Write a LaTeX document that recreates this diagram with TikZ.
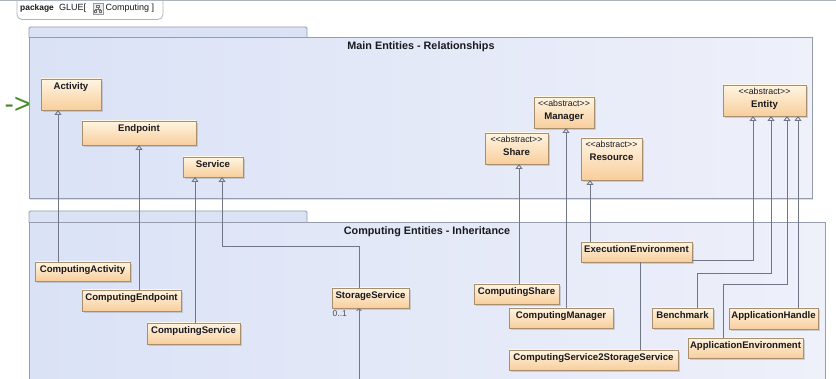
\documentclass[tikz,border=0pt]{standalone}
\usepackage{fontspec}
\newfontfamily\uifont{Liberation Sans}
\usetikzlibrary{arrows.meta,shadows}

\definecolor{hdrline}{RGB}{175,180,192}
\definecolor{pkgline}{RGB}{150,156,172}
\definecolor{pkgL}{RGB}{218,226,246}
\definecolor{pkgR}{RGB}{238,240,250}
\definecolor{clsline}{RGB}{168,142,108}
\definecolor{clstop}{RGB}{255,245,226}
\definecolor{clsbot}{RGB}{248,206,156}
\definecolor{wire}{RGB}{112,118,134}
\definecolor{markgreen}{RGB}{72,140,42}
\definecolor{txt}{RGB}{25,25,30}

\tikzset{
  hdr/.style={draw=hdrline, line width=0.8pt},
  pkgtab/.style={draw=pkgline, line width=0.8pt, fill=pkgL},
  pkgbody/.style={draw=pkgline, line width=1pt, left color=pkgL, right color=pkgR,
    drop shadow={shadow xshift=1.2pt, shadow yshift=-1.2pt, opacity=0.25}},
  pkgtitle/.style={font=\uifont\bfseries\fontsize{10.8}{12}\selectfont, text=txt, inner sep=0pt},
  cls/.style={draw=clsline, line width=0.6pt, top color=clstop, bottom color=clsbot,
    inner sep=0pt, outer sep=0pt, anchor=north west,
    drop shadow={shadow xshift=1.6pt, shadow yshift=-1.6pt, opacity=0.3}},
  clsname/.style={font=\uifont\bfseries\fontsize{9.6}{13}\selectfont, text=txt,
    inner sep=0pt, align=center, anchor=north},
  hdrtext/.style={font=\uifont\fontsize{9}{10}\selectfont, text=txt, inner sep=0pt, anchor=base west},
  gen/.style={draw=wire, line width=0.9pt,
    -{Triangle[open, width=7pt, length=5pt]}},
  assoc/.style={draw=wire, line width=0.9pt},
  mult/.style={font=\uifont\fontsize{8.5}{10}\selectfont, text=black!70, inner sep=0pt, anchor=west},
}

% class box: name, x, y, width, height, label
\newcommand\umlbox[6]{%
  \node[cls, minimum width=#4pt, minimum height=#5pt] (#1) at (#2,#3) {};
  \node[clsname] (#1-label) at ([yshift=-3pt]#1.north) {#6};
}
\newcommand\abstr{{\mdseries\fontsize{8.8}{13}\selectfont <\kern0pt<abstract>\kern0pt>}}

\begin{document}
\begin{tikzpicture}[x=1pt,y=-1pt]
\useasboundingbox (0,0) rectangle (836,379);
\clip (0,0) rectangle (836,379);
\fill[white] (0,0) rectangle (836,379);

% ---- outer package header -------------------------------------------
\draw[hdr] (0,0.6) -- (836,0.6);
\draw[hdr, rounded corners=5pt] (17,-4) -- (17,19.5) -- (163,19.5) -- (163,-4);
\node[hdrtext, font=\uifont\bfseries\fontsize{8.4}{10}\selectfont] (hdrkw) at (20,11) {package};
\node[hdrtext] (hdrname) at (59,11) {GLUE[};
% diagram icon
\draw[draw=black!40, fill=black!8, line width=0.4pt] (93,3.5) rectangle (103,14.5);
\draw[black!55, line width=0.6pt] (96.5,5.5) rectangle (99.5,7.5)
  (98,7.5) -- (98,9.5) (95.5,9.5) -- (100.5,9.5) (95.5,9.5) -- (95.5,10.5) (100.5,9.5) -- (100.5,10.5)
  (94.5,10.5) rectangle (96.5,12.5) (99.5,10.5) rectangle (101.5,12.5);
\node[hdrtext] (hdrdiag) at (105.5,11) {Computing ]};

% ---- packages -----------------------------------------------------------
\path[pkgtab, rounded corners=1.5pt] (29,38) -- (29,27) -- (307,27) -- (307,38);
\path[pkgbody] (29,38) rectangle (812,199);
\node[pkgtitle] (maintitle) at (421,47) {Main Entities - Relationships};

\path[pkgtab, rounded corners=1.5pt] (29,223) -- (29,211) -- (307,211) -- (307,223);
\path[pkgbody] (29,223) rectangle (825,395);
\node[pkgtitle] (comptitle) at (427,232) {Computing Entities - Inheritance};

% ---- marker ---------------------------------------------------------------
\node[font=\uifont\fontsize{28}{28}\selectfont, text=markgreen, inner sep=0pt, anchor=base west]
  (marker) at (4.5,113.5) {-\kern0pt>};

% ---- main entities ----------------------------------------------------------
\umlbox{act}{41}{79}{60}{31}{Activity}
\umlbox{endp}{82}{121}{114}{24}{Endpoint}
\umlbox{serv}{183}{157}{60}{20}{Service}
\umlbox{mgr}{534}{97}{60}{31}{\abstr\\Manager}
\umlbox{share}{485}{133}{63}{31}{\abstr\\Share}
\umlbox{res}{581}{138}{61}{42}{\abstr\\Resource}
\umlbox{ent}{723}{85}{83}{31}{\abstr\\Entity}

% ---- computing entities -----------------------------------------------------
\umlbox{cact}{35}{262}{95}{19}{ComputingActivity}
\umlbox{cendp}{82}{290}{99}{21}{ComputingEndpoint}
\umlbox{cserv}{147}{323}{93}{21}{ComputingService}
\umlbox{stor}{332}{288}{77}{20}{StorageService}
\umlbox{exec}{581}{242}{111}{20}{ExecutionEnvironment}
\umlbox{cshare}{474}{284}{85}{20}{ComputingShare}
\umlbox{cmgr}{509}{308}{104}{20}{ComputingManager}
\umlbox{cs2s}{509}{350}{169}{20}{ComputingService2StorageService}
\umlbox{bench}{652}{308}{61}{20}{Benchmark}
\umlbox{ahandle}{729}{308}{89}{21}{ApplicationHandle}
\umlbox{aenv}{688}{338}{115}{20}{ApplicationEnvironment}

% ---- generalizations ----------------------------------------------------------
\draw[gen] (cact.north -| 58,0) -- (act.south -| 58,0);
\draw[gen] (cendp.north -| 139,0) -- (endp.south -| 139,0);
\draw[gen] (cserv.north -| 195,0) -- (serv.south -| 195,0);
\draw[gen] (stor.north -| 359,0) -- (359,246) -- (222,246) -- (serv.south -| 222,0);
\draw[gen] (cshare.north -| 519,0) -- (share.south -| 519,0);
\draw[gen] (cmgr.north -| 566,0) -- (mgr.south -| 566,0);
\draw[gen] (exec.north -| 590,0) -- (res.south -| 590,0);
\draw[gen] (exec.east |- 0,260) -- (753,260) -- (ent.south -| 753,0);
\draw[gen] (bench.north -| 697,0) -- (697,273) -- (771,273) -- (ent.south -| 771,0);
\draw[gen] (aenv.north -| 723,0) -- (723,284) -- (787,284) -- (ent.south -| 787,0);
\draw[gen] (ahandle.north -| 798,0) -- (ent.south -| 798,0);

% ---- associations -------------------------------------------------------------
\draw[assoc] (exec.south -| 640,0) -- (cs2s.north -| 640,0);
\coordinate (storlink) at (359,390);
\draw[assoc, -{Straight Barb[length=2.2pt, width=4.5pt]}] (storlink) -- (stor.south -| 359,0);
\node[mult] (storm) at (332.5,313.5) {0..1};

\end{tikzpicture}
\end{document}
